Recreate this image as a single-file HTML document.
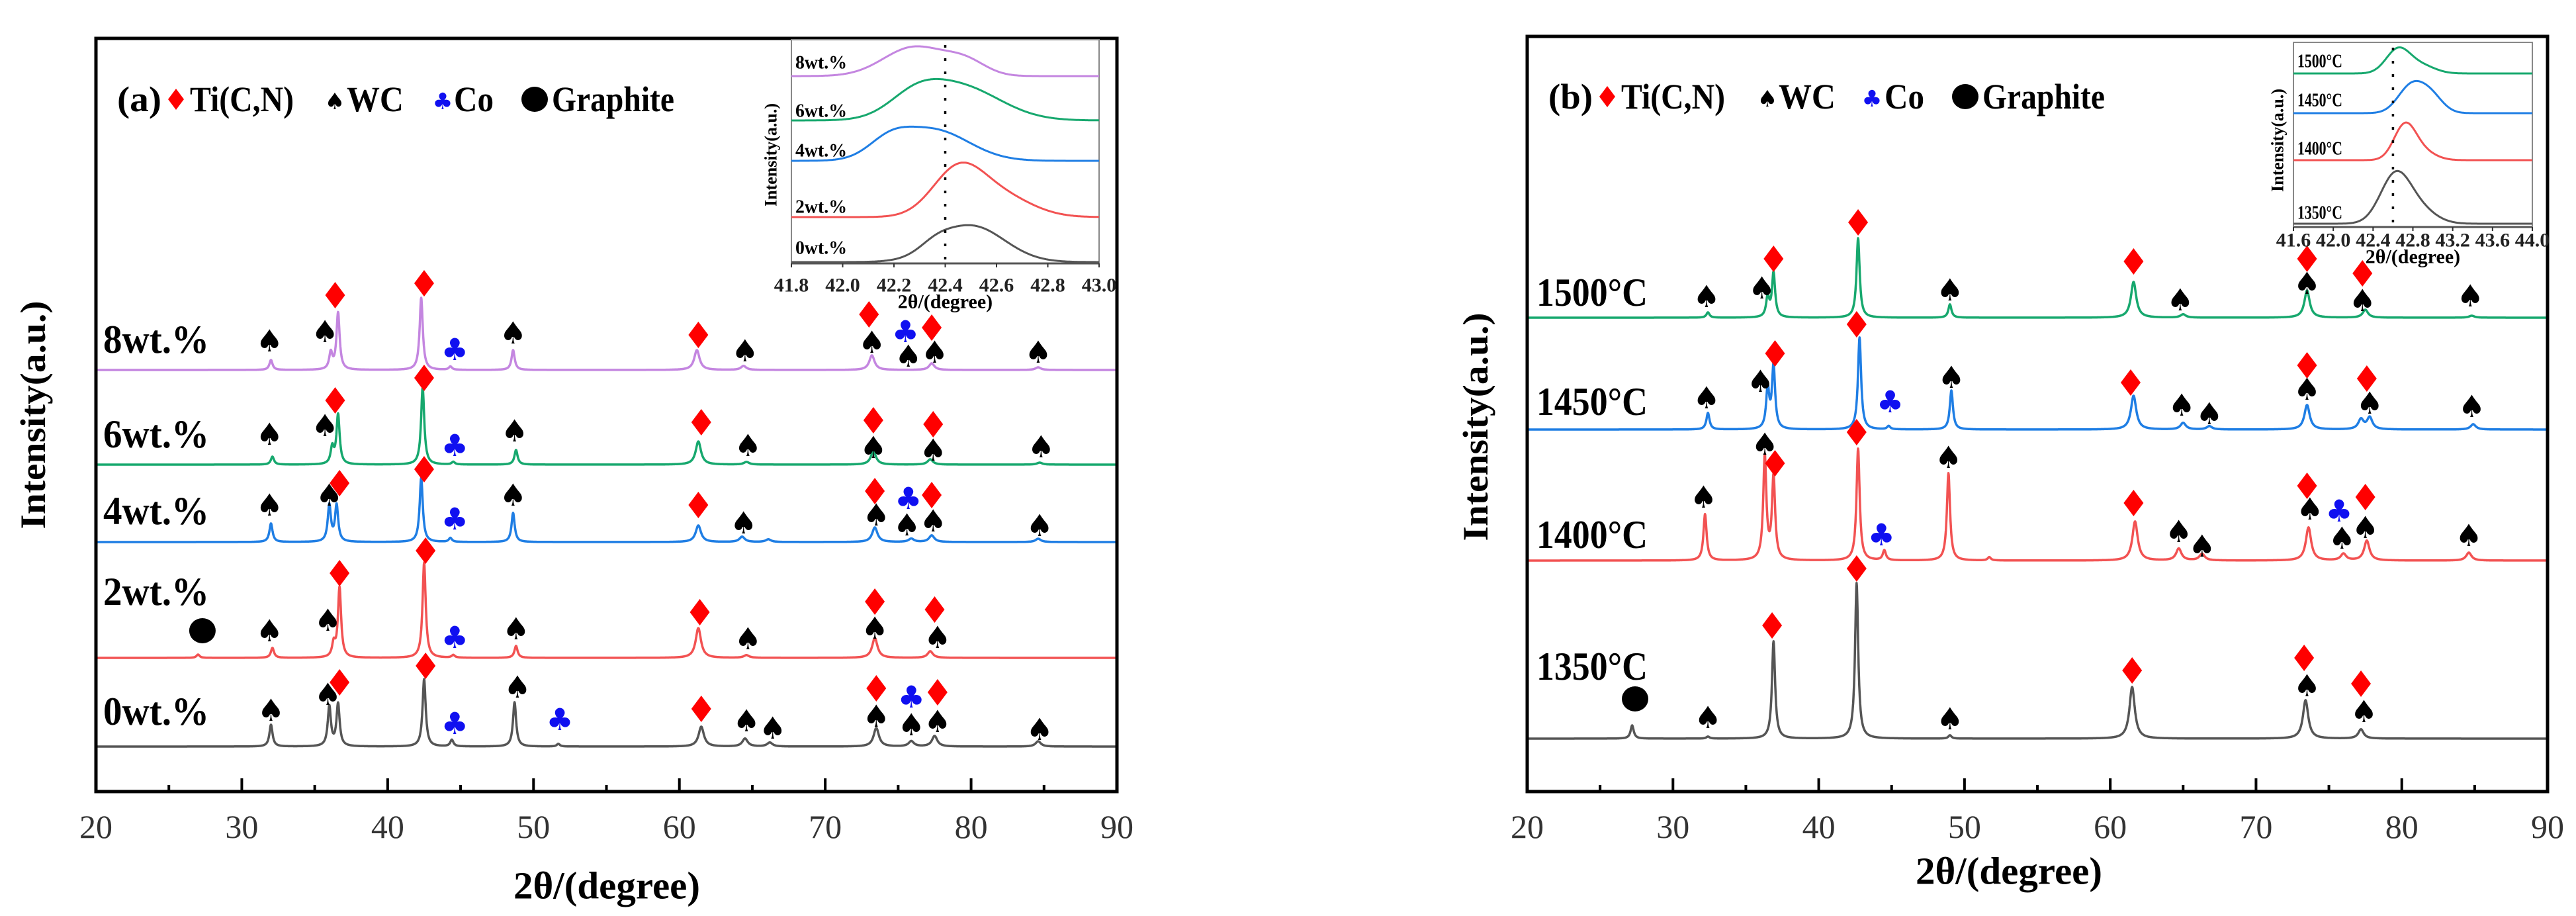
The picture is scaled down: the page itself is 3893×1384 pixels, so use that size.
<!DOCTYPE html>
<html><head><meta charset="utf-8">
<style>
html,body{margin:0;padding:0;background:#fff;}
svg{display:block;}
text{font-family:"Liberation Serif","DejaVu Serif",serif;}
</style></head>
<body>
<svg id="fig" width="3893" height="1384" viewBox="0 0 3893 1384" xmlns="http://www.w3.org/2000/svg"></svg>
<script>
// ---------- DATA: panel (a) main spectra (peak position deg, peak intensity a.u.) ----------
const aLabels = ["0wt.%","2wt.%","4wt.%","6wt.%","8wt.%"];
const aOffsets = [68, 202, 377, 494, 637];
const aPos0 = [32.0,36.0,36.6,42.5,44.4,48.7,51.7,61.5,64.5,66.2,73.5,75.9,77.5,84.6];
const aInt0 = [33,60,64,102,10,67,4,30,12,6,28,8,16,8];
const aPos1 = [27.0,32.1,36.3,36.7,42.5,44.5,48.8,61.3,64.6,73.4,77.2];
const aInt1 = [5,15,20,106,144,4,18,45,4,30,10];
const aPos2 = [32.0,36.0,36.5,42.3,44.3,48.6,61.3,64.3,66.1,73.4,75.9,77.3,84.6];
const aInt2 = [28,55,55,97,6,44,25,8,4,22,5,10,5];
const aPos3 = [32.1,36.2,36.6,42.4,44.5,48.8,61.3,64.6,73.3,77.2,84.7];
const aInt3 = [12,25,75,117,4,22,35,4,20,8,3];
const aPos4 = [32.0,36.1,36.6,42.3,44.3,48.6,61.2,64.4,73.2,77.3,84.6];
const aInt4 = [15,25,86,109,5,30,30,6,22,10,4];
// ---------- DATA: panel (b) ----------
const bLabels = ["1350°C","1400°C","1450°C","1500°C"];
const bOffsets = [80, 349, 547, 716];
const bPos0 = [27.2,32.4,36.9,42.6,49.0,61.5,73.4,77.2];
const bInt0 = [20,3,147,235,5,78,58,14];
const bPos1 = [32.2,36.3,36.9,42.7,44.5,48.9,51.7,61.7,64.7,66.3,73.6,76.0,77.6,84.6];
const bInt1 = [70,156,125,169,15,132,5,59,18,10,50,10,30,12];
const bPos2 = [32.4,36.5,36.9,42.8,44.8,49.1,61.6,65.0,66.8,73.5,77.2,77.8,84.9];
const bInt2 = [25,60,95,139,5,59,51,10,5,37,15,18,8];
const bPos3 = [32.4,36.5,36.9,42.7,49.0,61.6,65.0,73.5,77.5,84.8];
const bInt3 = [8,30,67,120,20,54,5,41,12,3];
// ---------- DATA: phase markers [type, deg, level a.u.] ----------
const aMarkerType = ["S","S","D","D","C","S","C","D","S","S","D","S","C","D","S","S","S",
 "G","S","S","D","D","C","S","D","S","D","S","D","S",
 "S","S","D","D","C","S","D","S","D","C","D","S","S","S","S",
 "S","S","D","D","C","S","D","S","D","S","D","S","S",
 "S","S","D","D","C","S","D","S","D","S","C","D","S","S","S"];
const aMarkerDeg = [32.0,35.9,36.7,42.6,44.6,48.9,51.8,61.5,64.6,66.4,73.5,73.5,75.9,77.7,75.9,77.7,84.7,
 27.3,31.9,35.9,36.7,42.6,44.6,48.8,61.4,64.7,73.4,73.4,77.5,77.7,
 31.9,36.0,36.7,42.5,44.6,48.6,61.3,64.4,73.4,75.7,77.3,73.5,75.6,77.4,84.7,
 31.9,35.7,36.4,42.5,44.6,48.7,61.5,64.7,73.3,73.3,77.4,77.4,84.8,
 31.9,35.7,36.4,42.5,44.6,48.6,61.3,64.5,73.0,73.2,75.5,77.3,75.7,77.5,84.6];
const aMarkerLvl = [123,147,165,190,103,158,109,125,107,96,156,114,143,150,101,106,94,
 243,243,259,330,364,233,246,271,231,287,247,275,233,
 433,448,466,487,412,448,433,406,454,443,448,418,403,409,402,
 540,553,591,625,523,545,558,523,561,520,555,516,521,
 681,695,750,768,668,693,690,666,721,679,695,701,658,664,664];
const bMarkerType = ["G","S","D","D","S","D","D","S","D","S",
 "S","S","D","D","C","S","D","D","C","D","S","S","S","S","S","S",
 "S","S","C","D","D","S","D","S","S","D","S","D","S","S",
 "S","S","D","D","S","D","S","D","S","D","S","S"];
const bMarkerDeg = [27.4,32.4,36.8,42.6,49.0,61.5,73.3,73.5,77.2,77.4,
 36.3,32.1,37.0,42.6,44.3,48.9,61.6,73.5,75.7,77.5,73.7,64.7,66.3,75.9,77.5,84.6,
 32.3,36.0,44.9,37.0,42.6,49.1,61.4,64.9,66.8,73.5,73.5,77.6,77.8,84.8,
 32.3,36.1,36.9,42.7,49.0,61.6,64.8,73.5,73.5,77.3,77.3,84.7];
const bMarkerLvl = [140,112,251,337,110,183,202,160,163,121,
 525,445,496,543,388,505,436,462,424,445,427,393,371,383,399,387,
 595,620,589,662,706,626,618,584,571,644,608,624,587,582,
 748,761,805,860,758,801,743,805,768,783,742,749];
// ---------- DATA: insets ----------
const iaX = [41.8,42.0,42.2,42.4,42.6,42.8,43.0];
const iaLabels = ["0wt.%","2wt.%","4wt.%","6wt.%","8wt.%"];
const iaBase = [2,70,155,216,283];
const iaC1 = [42.50,42.45,42.35,42.45,42.28];
const iaH1 = [55,70,47,52,44];
const iaW1 = [0.13,0.10,0.14,0.16,0.12];
const iaC2 = [42.36,42.62,42.18,42.28,42.48];
const iaH2 = [10,30,22,25,20];
const iaW2 = [0.06,0.12,0.08,0.10,0.08];
const ibX = [41.6,42.0,42.4,42.8,43.2,43.6,44.0];
const ibLabels = ["1350°C","1400°C","1450°C","1500°C"];
const ibBase = [5,101,172,232];
const ibC1 = [42.62,42.72,42.78,42.65];
const ibH1 = [70,52,40,36];
const ibW1 = [0.15,0.11,0.13,0.12];
const ibC2 = [42.85,42.90,42.98,42.88];
const ibH2 = [22,12,25,12];
const ibW2 = [0.17,0.13,0.12,0.14];

// ---------- drawing ----------
const NS = "http://www.w3.org/2000/svg";
const svg = document.getElementById("fig");
function mk(tag, attrs, parent){
  const e = document.createElementNS(NS, tag);
  for (const k in attrs) e.setAttribute(k, attrs[k]);
  (parent||svg).appendChild(e);
  return e;
}
function txt(str, attrs, parent){ const t = mk("text", attrs, parent); t.textContent = str; return t; }

function drawPanel(P){
  const g = mk("g", {});
  
  
  const xs = d => P.x0 + (d-20)*(P.x1-P.x0)/70;
  const ys = v => P.yb - v;
  P.series.forEach((s, si) => {
    let dstr = "";
    for (let d = 20; d <= 90.0001; d += 0.02) {
      let v = s.off;
      for (let k = 0; k < s.pos.length; k++) {
        const gam = s.pos[k] > 55 ? 0.22 : 0.13;
        const u = (d - s.pos[k]) / gam;
        v += s.int[k] / (1 + u*u);
      }
      dstr += (dstr ? "L" : "M") + xs(d).toFixed(1) + "," + ys(v).toFixed(1);
    }
    const p = mk("path", {d: dstr, fill: "none", stroke: s.color, "stroke-width": 3.5, "stroke-linejoin":"round"}, g);
    
    
    const lt = txt(s.label, {x: P.labX, y: ys(s.labLvl), "font-size": 60, "font-weight": "bold", fill: "#000", "dominant-baseline":"central", textLength: P.labW, lengthAdjust:"spacingAndGlyphs"}, g);
    
    
  });
  for (let i = 0; i < P.mt.length; i++) {
    const cx = xs(P.md[i]), cy = ys(P.ml[i]);
    drawMarker(P.mt[i], cx, cy, 1, g);
  }
  const fr = mk("rect", {x: P.x0, y: P.yt, width: P.x1-P.x0, height: P.yb-P.yt, fill:"none", stroke:"#000", "stroke-width": 5}, g);
  
  
  for (let d = 25; d < 90; d += 5) {
    const major = d % 10 === 0;
    mk("line", {x1: xs(d), x2: xs(d), y1: P.yb, y2: P.yb - (major ? 20 : 10), stroke:"#000", "stroke-width": 4}, g);
  }
  for (let d = 20; d <= 90; d += 10) {
    const t = txt(String(d), {x: xs(d), y: 1249, "font-size": 50, fill:"#333", "text-anchor":"middle", "dominant-baseline":"central"}, g);
    
    
  }
  const xt = txt("2θ/(degree)", {x: P.xtX, y: P.xtY, "font-size": 58, "font-weight":"bold", "text-anchor":"middle", "dominant-baseline":"central", textLength: 282, lengthAdjust:"spacingAndGlyphs"}, g);
  
  
  const yt = txt("Intensity(a.u.)", {x: 0, y: 0, "font-size": 54, "font-weight":"bold", "text-anchor":"middle", "dominant-baseline":"central", textLength: 345, lengthAdjust:"spacingAndGlyphs", transform: "translate(" + P.ytX + "," + P.ytY + ") rotate(-90)"}, g);
  
  
  const lg = mk("g", {}, g);
  
  
  const L = P.leg;
  txt(P.tag, {x: L[0], y: L[9], "font-size": 54, "font-weight":"bold", "dominant-baseline":"central", textLength: L[1]-L[0], lengthAdjust:"spacingAndGlyphs"}, lg);
  drawMarker("D", L[2], L[9], 0.8, lg);
  txt("Ti(C,N)", {x: L[3], y: L[9], "font-size": 54, "font-weight":"bold", "dominant-baseline":"central", textLength: 157, lengthAdjust:"spacingAndGlyphs"}, lg);
  drawMarker("S", L[4], L[9]+4, 0.75, lg);
  txt("WC", {x: L[5], y: L[9], "font-size": 54, "font-weight":"bold", "dominant-baseline":"central", textLength: 86, lengthAdjust:"spacingAndGlyphs"}, lg);
  drawMarker("C", L[6], L[9]+4, 0.75, lg);
  txt("Co", {x: L[7], y: L[9], "font-size": 54, "font-weight":"bold", "dominant-baseline":"central", textLength: 60, lengthAdjust:"spacingAndGlyphs"}, lg);
  drawMarker("G", L[8], L[9], 1, lg);
  txt("Graphite", {x: L[8]+26, y: L[9], "font-size": 54, "font-weight":"bold", "dominant-baseline":"central", textLength: 185, lengthAdjust:"spacingAndGlyphs"}, lg);
}

function drawMarker(type, cx, cy, s, parent){
  let e;
  if (type === "D") {
    e = mk("polygon", {points: [cx, cy-20*s, cx+15*s, cy, cx, cy+20*s, cx-15*s, cy].join(" "), fill:"#f00"}, parent);
    
  } else if (type === "G") {
    e = mk("ellipse", {cx: cx, cy: cy, rx: 20*s, ry: 19*s, fill:"#000"}, parent);
    
  } else {
    e = txt(type === "S" ? "♠" : "♣", {x: cx, y: cy, "font-size": 46*s, fill: type === "S" ? "#000" : "#1010f0", "text-anchor":"middle", "dominant-baseline":"central", style:"font-family:'DejaVu Sans',sans-serif"}, parent);
    
  }
  
}

function drawInset(I){
  const g = mk("g", {});
  
  
  const xs = d => I.x0 + (d - I.d0)*(I.x1-I.x0)/(I.d1-I.d0);
  const ys = v => I.yb - v;
  mk("rect", {x: I.x0, y: I.yt, width: I.x1-I.x0, height: I.yb-I.yt, fill:"#fff", stroke:"#888", "stroke-width": 2}, g);
  I.cols.forEach((c, i) => {
    let d = "";
    for (let x = I.d0; x <= I.d1 + 1e-6; x += (I.d1-I.d0)/400) {
      const u1 = (x - I.c1[i]) / I.w1[i], u2 = (x - I.c2[i]) / I.w2[i];
      const v = I.base[i] + I.h1[i]*Math.exp(-u1*u1/2) + I.h2[i]*Math.exp(-u2*u2/2);
      d += (d ? "L" : "M") + xs(x).toFixed(1) + "," + ys(v).toFixed(1);
    }
    const p = mk("path", {d: d, fill:"none", stroke: c, "stroke-width": 3}, g);
    
    
    const t = txt(I.labels[i], {x: I.x0+6, y: I.labY[i], "font-size": 28, "font-weight":"bold", "dominant-baseline":"central", textLength: I.labW, lengthAdjust:"spacingAndGlyphs"}, g);
    
    
  });
  mk("line", {x1: xs(I.dash), x2: xs(I.dash), y1: I.yt+8, y2: I.yb, stroke:"#000", "stroke-width": 3.5, "stroke-dasharray":"4 16"}, g);
  mk("line", {x1: I.x0, x2: I.x1, y1: I.yb, y2: I.yb, stroke:"#555", "stroke-width": 3}, g);
  I.ticks.forEach(v => {
    mk("line", {x1: xs(v), x2: xs(v), y1: I.yb, y2: I.yb+6, stroke:"#333", "stroke-width": 2}, g);
    const t = txt(v.toFixed(1), {x: xs(v), y: I.tickY, "font-size": 30, "font-weight":"bold", fill:"#222", "text-anchor":"middle", "dominant-baseline":"central"}, g);
    
    
  });
  txt("2θ/(degree)", {x: (I.x0+I.x1)/2, y: I.titY, "font-size": 30, "font-weight":"bold", "text-anchor":"middle", "dominant-baseline":"central"}, g);
  txt("Intensity(a.u.)", {x: 0, y: 0, "font-size": 26, "font-weight":"bold", "text-anchor":"middle", "dominant-baseline":"central", transform: "translate(" + I.ytX + "," + I.ytY + ") rotate(-90)"}, g);
}

const colsA = ["#555555","#f25252","#1f7ee4","#17a86e","#c486e0"];
const colsB = ["#555555","#f25252","#1f7ee4","#17a86e"];
const aPos = [aPos0,aPos1,aPos2,aPos3,aPos4], aInt = [aInt0,aInt1,aInt2,aInt3,aInt4];
const bPos = [bPos0,bPos1,bPos2,bPos3], bInt = [bInt0,bInt1,bInt2,bInt3];
const aLabLvl = [121,302,424,540,683];
const bLabLvl = [189,388,589,754];

drawPanel({name:"panel-a", tag:"(a)", x0:145, x1:1688, yt:58, yb:1196, labX:156, labW:160,
  xtX:917, xtY:1338, ytX:50, ytY:627,
  leg:[177,244,266,287,506,524,669,686,808,150],
  series: aLabels.map((l,i)=>({label:l, off:aOffsets[i], pos:aPos[i], int:aInt[i], color:colsA[i], labLvl:aLabLvl[i]})),
  mt:aMarkerType, md:aMarkerDeg, ml:aMarkerLvl});
drawPanel({name:"panel-b", tag:"(b)", x0:2308, x1:3850, yt:55, yb:1196, labX:2322, labW:168,
  xtX:3036, xtY:1316, ytX:2230, ytY:645,
  leg:[2340,2407,2429,2450,2671,2688,2829,2848,2970,146],
  series: bLabels.map((l,i)=>({label:l, off:bOffsets[i], pos:bPos[i], int:bInt[i], color:colsB[i], labLvl:bLabLvl[i]})),
  mt:bMarkerType, md:bMarkerDeg, ml:bMarkerLvl});

drawInset({name:"inset-a", x0:1196, x1:1661, yt:60, yb:398, d0:41.8, d1:43.0, ticks:iaX, dash:42.4,
  cols:colsA, labels:iaLabels, base:iaBase, c1:iaC1, h1:iaH1, w1:iaW1, c2:iaC2, h2:iaH2, w2:iaW2,
  labY:[375,313,228,168,95], labW:78, tickY:431, titY:456, ytX:1165, ytY:234});
drawInset({name:"inset-b", x0:3466, x1:3827, yt:64, yb:343, d0:41.6, d1:44.0, ticks:ibX, dash:42.6,
  cols:colsB, labels:ibLabels, base:ibBase, c1:ibC1, h1:ibH1, w1:ibW1, c2:ibC2, h2:ibH2, w2:ibW2,
  labY:[322,225,152,93], labW:68, tickY:363, titY:388, ytX:3442, ytY:212});
</script>
</body></html>
